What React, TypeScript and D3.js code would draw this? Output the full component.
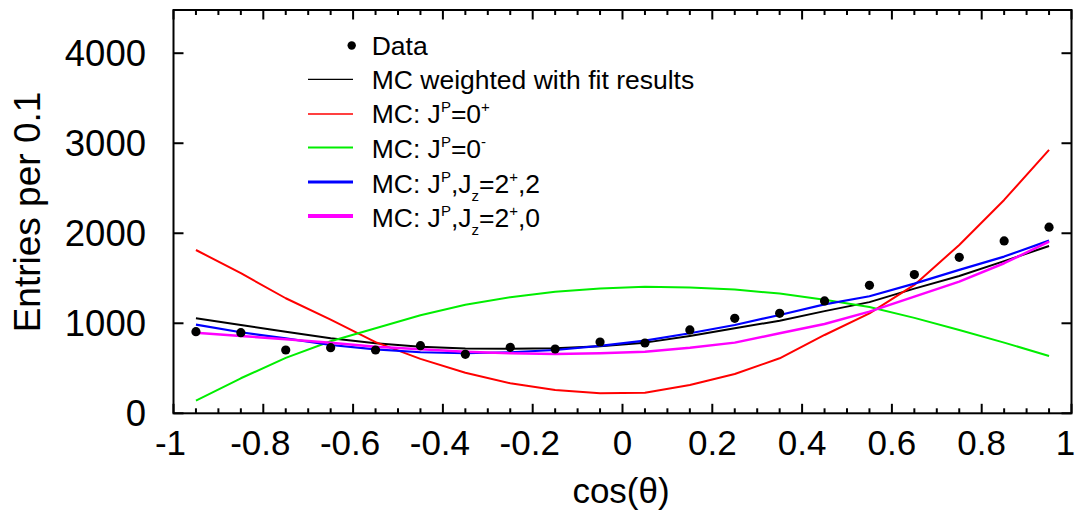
import React from "react";
import * as d3 from "d3";

const binCenters = [-0.95, -0.85, -0.75, -0.65, -0.55, -0.45, -0.35, -0.25, -0.15, -0.05, 0.05, 0.15, 0.25, 0.35, 0.45, 0.55, 0.65, 0.75, 0.85, 0.95];
const dataValues = [907, 896, 703, 729, 703, 751, 655, 733, 714, 792, 781, 926, 1055, 1111, 1248, 1422, 1541, 1733, 1915, 2067];
const mcWeighted = [1055, 981, 907, 833, 778, 740, 720, 718, 722, 745, 785, 859, 944, 1029, 1135, 1235, 1385, 1526, 1690, 1859];
const mcZeroPlus = [1814, 1556, 1278, 1040, 790, 605, 451, 333, 259, 222, 229, 314, 437, 611, 870, 1111, 1426, 1870, 2370, 2926];
const mcZeroMinus = [140, 389, 615, 800, 945, 1090, 1205, 1290, 1350, 1385, 1405, 1398, 1375, 1330, 1262, 1180, 1060, 926, 785, 637];
const mcTwoPlus2 = [985, 900, 833, 759, 711, 678, 667, 678, 703, 748, 807, 889, 981, 1092, 1210, 1300, 1440, 1593, 1741, 1918];
const mcTwoPlus0 = [896, 859, 822, 785, 740, 711, 685, 667, 659, 667, 685, 729, 785, 889, 992, 1129, 1296, 1463, 1667, 1907];

const xTickValues = [-1, -0.8, -0.6, -0.4, -0.2, 0, 0.2, 0.4, 0.6, 0.8, 1];
const xTickLabels = ["-1", "-0.8", "-0.6", "-0.4", "-0.2", "0", "0.2", "0.4", "0.6", "0.8", "1"];
const yTickValues = [0, 1000, 2000, 3000, 4000];
const yTickLabels = ["0", "1000", "2000", "3000", "4000"];

// legend label segments: [text, kind] where kind: "n" normal, "p" superscript, "b" subscript
const legendLabels: [string, string][][] = [
  [["MC weighted with fit results", "n"]],
  [["MC: J", "n"], ["P", "p"], ["=0", "n"], ["+", "p"]],
  [["MC: J", "n"], ["P", "p"], ["=0", "n"], ["-", "p"]],
  [["MC: J", "n"], ["P", "p"], [",J", "n"], ["z", "b"], ["=2", "n"], ["+", "p"], [",2", "n"]],
  [["MC: J", "n"], ["P", "p"], [",J", "n"], ["z", "b"], ["=2", "n"], ["+", "p"], [",0", "n"]],
];

const W = 1075;
const H = 510;
const left = 173.5, right = 1071.5, top = 10, bottom = 413.3;
const FONT = "'Liberation Sans', Arial, Helvetica, sans-serif";

const x = d3.scaleLinear().domain([-1, 1]).range([left, right]);
const y = d3.scaleLinear().domain([0, 4480]).range([bottom, top]);

const series = [
  { name: "weighted", values: mcWeighted, color: "#000000", width: 2, legendWidth: 1.2 },
  { name: "0+", values: mcZeroPlus, color: "#ff0000", width: 2, legendWidth: 1.5 },
  { name: "0-", values: mcZeroMinus, color: "#00ee00", width: 2, legendWidth: 2 },
  { name: "2+2", values: mcTwoPlus2, color: "#0000ff", width: 2.2, legendWidth: 3 },
  { name: "2+0", values: mcTwoPlus0, color: "#ff00ff", width: 2.5, legendWidth: 4 },
];

export default function App() {
  const line = d3
    .line<number>()
    .x((_, i) => x(binCenters[i]))
    .y((d) => y(d));

  const minorTicks = d3.range(-1, 1.0001, 0.05).map((v) => Math.round(v * 100) / 100);

  const legX = 371.7;
  const legLine = [308, 353];
  const baselines = [55, 88.5, 123, 158, 193, 227];
  const lineYs = [79.3, 114, 147.5, 182, 216];
  const lfs = 26.5;
  const sfs = 15;
  const offsets: Record<string, number> = { n: 0, p: -11, b: 8 };

  const renderLabel = (segs: [string, string][]) => {
    let cur = 0;
    return segs.map(([t, k], j) => {
      const target = offsets[k];
      const dy = target - cur;
      cur = target;
      return (
        <tspan key={j} dy={dy} fontSize={k === "n" ? lfs : sfs}>
          {t}
        </tspan>
      );
    });
  };

  const xLabelPos = (v: number) => {
    if (v === 1) return x(v) - 6;
    if (v < 0) return x(v) - 3;
    return x(v);
  };

  return (
    <div style={{ position: "fixed", left: 0, top: 0 }}>
      <svg width={W} height={H} style={{ display: "block", background: "#fff" }} fontFamily={FONT}>
        {series.map((s) => (
          <path key={s.name} d={line(s.values) || ""} fill="none" stroke={s.color} strokeWidth={s.width} strokeLinejoin="round" />
        ))}
        {dataValues.map((v, i) => (
          <circle key={i} cx={x(binCenters[i])} cy={y(v)} r={4.6} fill="#000" />
        ))}
        <rect x={left} y={top} width={right - left} height={bottom - top} fill="none" stroke="#000" strokeWidth={2} />
        {minorTicks.map((v) => {
          const major = Math.abs(Math.round(v * 5) - v * 5) < 1e-6;
          const len = major ? 9.5 : 5;
          return (
            <g key={"xt" + v}>
              <line x1={x(v)} x2={x(v)} y1={bottom} y2={bottom - len} stroke="#000" strokeWidth={2} />
              <line x1={x(v)} x2={x(v)} y1={top} y2={top + len} stroke="#000" strokeWidth={2} />
            </g>
          );
        })}
        {yTickValues.map((v) => (
          <g key={"yt" + v}>
            <line x1={left} x2={left + 10} y1={y(v)} y2={y(v)} stroke="#000" strokeWidth={2} />
            <line x1={right} x2={right - 10} y1={y(v)} y2={y(v)} stroke="#000" strokeWidth={2} />
          </g>
        ))}
        {xTickValues.map((v, i) => (
          <text key={"xl" + v} x={xLabelPos(v)} y={455} textAnchor="middle" fontSize={35} fill="#000">
            {xTickLabels[i]}
          </text>
        ))}
        {yTickValues.map((v, i) => (
          <text key={"yl" + v} x={146} y={y(v) + 13} textAnchor="end" fontSize={36.5} fill="#000">
            {yTickLabels[i]}
          </text>
        ))}
        <text x={621} y={503} textAnchor="middle" fontSize={35} fill="#000">cos(θ)</text>
        <text transform={`translate(40,212) rotate(-90)`} textAnchor="middle" fontSize={37} fill="#000">Entries per 0.1</text>
        <circle cx={351.7} cy={45.5} r={4.2} fill="#000" />
        <text x={legX} y={baselines[0]} fontSize={lfs} fill="#000">Data</text>
        {series.map((s, i) => (
          <line key={"ll" + i} x1={legLine[0]} x2={legLine[1]} y1={lineYs[i]} y2={lineYs[i]} stroke={s.color} strokeWidth={s.legendWidth} />
        ))}
        {legendLabels.map((segs, i) => (
          <text key={"lt" + i} x={legX} y={baselines[i + 1]} fontSize={lfs} fill="#000">
            {renderLabel(segs)}
          </text>
        ))}
      </svg>
    </div>
  );
}
